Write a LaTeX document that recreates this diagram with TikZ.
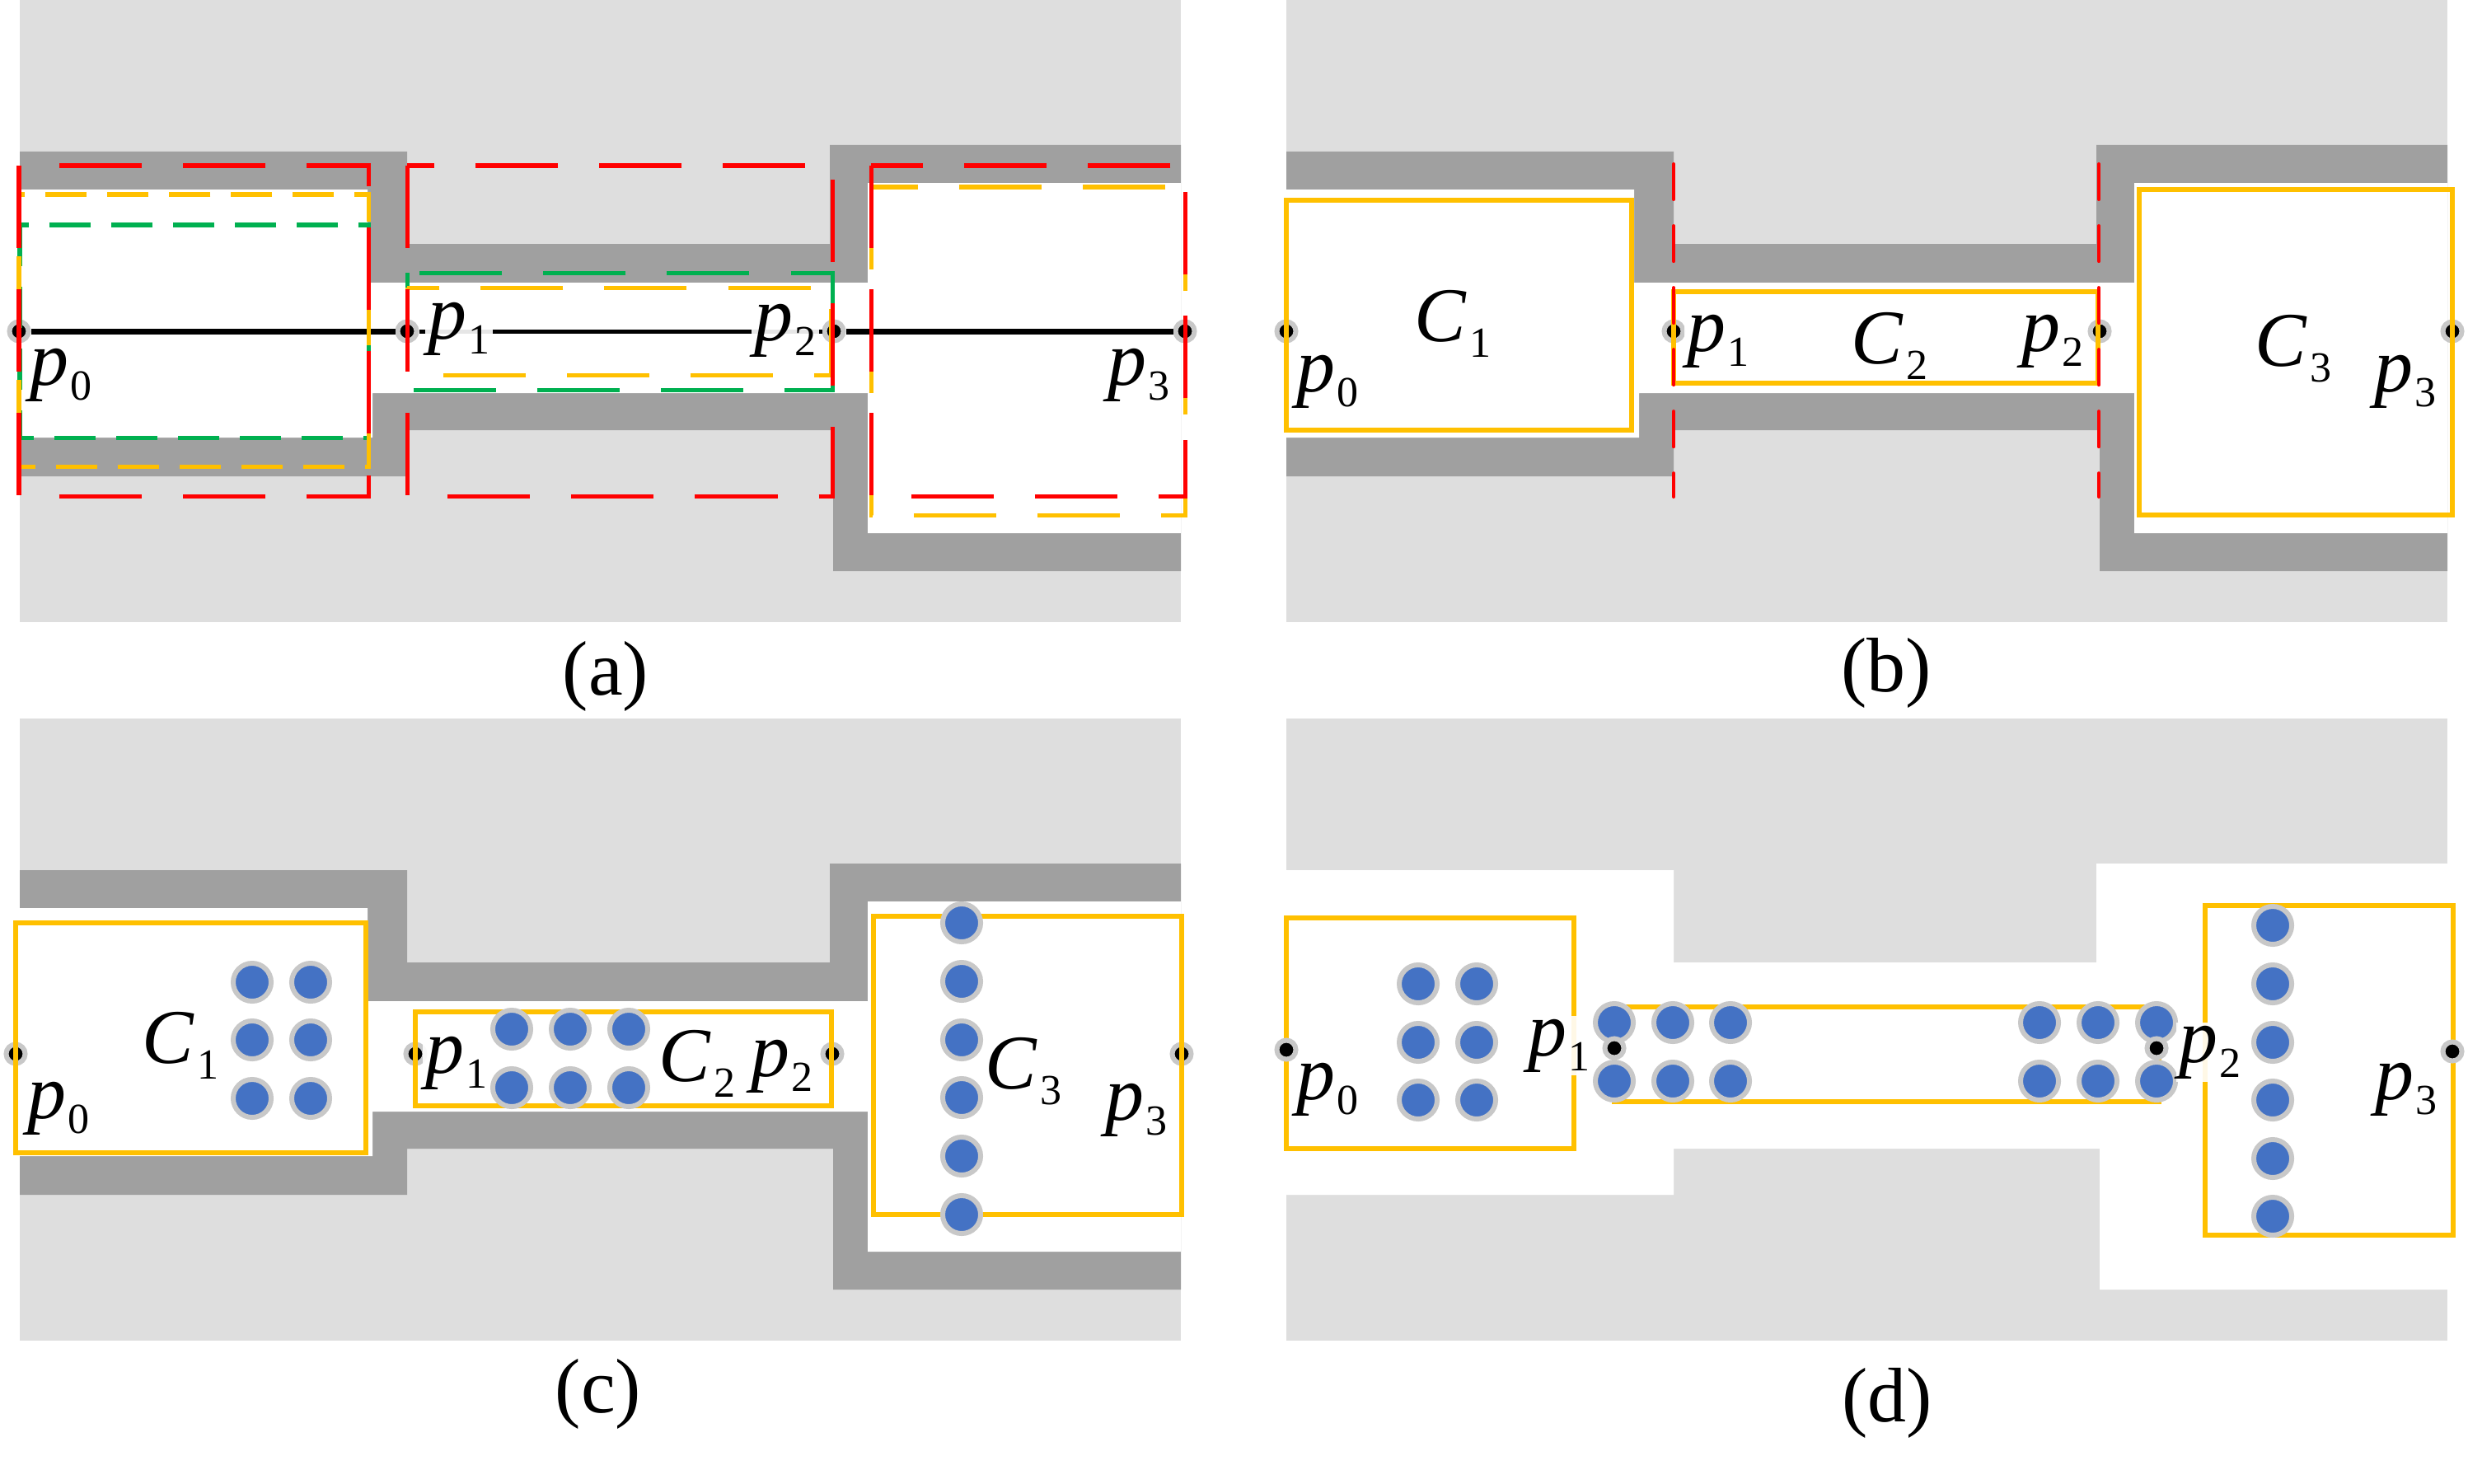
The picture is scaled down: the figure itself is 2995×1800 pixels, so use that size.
\documentclass[tikz,border=0pt]{standalone}
\usepackage{fontspec}
\setmainfont{Liberation Serif}
\usepackage{tikz}

\definecolor{bggray}{HTML}{DEDEDE}
\definecolor{wallgray}{HTML}{A0A0A0}
\definecolor{ringgray}{HTML}{C8C8C8}
\definecolor{cellyellow}{HTML}{FFC000}
\definecolor{boxred}{HTML}{FF0000}
\definecolor{boxgreen}{HTML}{00B050}
\definecolor{beadblue}{HTML}{4472C4}

% channel outline, panel coordinates in px
\newcommand{\outerwall}{(24,184) -- (494,184) -- (494,296) -- (1007,296) -- (1007,176) -- (1433,176) -- (1433,693) -- (1011,693) -- (1011,522) -- (494,522) -- (494,578) -- (24,578) -- cycle}
\newcommand{\innerwall}{(24,230) -- (446,230) -- (446,343) -- (1053,343) -- (1053,222) -- (1433,222) -- (1433,647) -- (1053,647) -- (1053,477) -- (452,477) -- (452,531) -- (24,531) -- cycle}
\newcommand{\psub}[2]{\textit{#1}\kern.03em\raisebox{-.2em}{\fontsize{14.8}{16}\selectfont #2}}

\begin{document}
\begin{tikzpicture}[x=0.01cm,y=-0.01cm]
        \tikzset{pt/.style={circle, fill=black, draw=ringgray, line width=0.06cm, inner sep=0pt, minimum size=0.23cm},
                 bead/.style={circle, fill=beadblue, draw=ringgray, line width=0.06cm, inner sep=0pt, minimum size=0.46cm},
                 cell/.style={draw=cellyellow, line width=0.055cm},
                 axisline/.style={draw=black, line width=0.07cm},
                 lbl/.style={font=\fontsize{26.7}{30}\selectfont, inner sep=1pt, fill=white, fill opacity=0.9, text opacity=1},
                 clbl/.style={font=\fontsize{26.7}{30}\selectfont, inner sep=1pt},
                 subcap/.style={font=\fontsize{26.7}{30}\selectfont},
                 redbox/.style={draw=boxred, line width=0.05cm, dash pattern=on 1cm off 0.5cm},
                 yelbox/.style={draw=cellyellow, line width=0.05cm, dash pattern=on 1cm off 0.5cm},
                 grnbox/.style={draw=boxgreen, line width=0.05cm, dash pattern=on 1cm off 0.5cm},
                 shortdash/.style={dash pattern=on 0.5cm off 0.25cm},
                 cutline/.style={draw=boxred, line width=0.04cm, line cap=round, dash pattern=on 0.43cm off 0.32cm}}
        \useasboundingbox (0,0) rectangle (2995,1800);
        
        %(a) dashed cells
        \begin{scope}
        \fill[bggray] (24,0) rectangle (1433,755);
        \fill[wallgray] \outerwall;
        \fill[white] \innerwall;
        \node[pt] (pa0) at (23,402) {};
        \node[pt] (pa1) at (494,402) {};
        \node[pt] (pa2) at (1012,402) {};
        \node[pt] (pa3) at (1438,402) {};
        \draw[axisline] (pa0) -- (pa1);
        \draw[axisline, line width=0.05cm] (pa1) -- (pa2);
        \draw[axisline] (pa2) -- (pa3);
        \node[lbl] (la0) at (74,455) {\psub{p}{0}};
        \node[lbl] (la1) at (557,399) {\psub{p}{1}};
        \node[lbl] (la2) at (953,401) {\psub{p}{2}};
        \node[lbl] (la3) at (1382,455) {\psub{p}{3}};
        \draw[grnbox, shortdash] (24,273) rectangle (447,531);
        \draw[grnbox] (494,331) rectangle (1010,473);
        \draw[yelbox, shortdash] (23,236) rectangle (447,566);
        \draw[yelbox] (494,349) rectangle (1008,455);
        \draw[yelbox] (1057,227) rectangle (1438,625);
        \draw[redbox] (23,201) rectangle (447,602);
        \draw[redbox] (494,201) rectangle (1010,602);
        \draw[redbox] (1057,201) rectangle (1438,602);
        \node[subcap] (capa) at (735,821) {(a)};
        \end{scope}
        
        %(b) cells
        \begin{scope}[shift={(1537,0)}]
        \fill[bggray] (24,0) rectangle (1433,755);
        \fill[wallgray] \outerwall;
        \fill[white] \innerwall;
        \node[pt] (pb0) at (24,402) {};
        \node[pt] (pb1) at (494,402) {};
        \node[pt] (pb2) at (1011,402) {};
        \node[pt] (pb3) at (1439,402) {};
        \draw[cell] (24,243) rectangle (443,522);
        \draw[cell] (494,354) rectangle (1009,465);
        \draw[cell] (1059,230) rectangle (1439,625);
        \draw[cutline] (494,199) -- (494,603);
        \draw[cutline] (1010,199) -- (1010,603);
        \node[clbl] (cb1) at (226,393) {\psub{C}{1}};
        \node[clbl] (cb2) at (756,420) {\psub{C}{2}};
        \node[clbl] (cb3) at (1246,423) {\psub{C}{3}};
        \node[lbl] (lb0) at (74,463) {\psub{p}{0}};
        \node[lbl] (lb1) at (548,414) {\psub{p}{1}};
        \node[lbl] (lb2) at (954,414) {\psub{p}{2}};
        \node[lbl] (lb3) at (1382,463) {\psub{p}{3}};
        \node[subcap] (capb) at (752,817) {(b)};
        \end{scope}
        
        %(c) cells with beads
        \begin{scope}[shift={(0,872)}]
        \fill[bggray] (24,0) rectangle (1433,755);
        \fill[wallgray] \outerwall;
        \fill[white] \innerwall;
        \node[pt] (pc0) at (19,407) {};
        \node[pt] (pc1) at (504,407) {};
        \node[pt] (pc2) at (1010,407) {};
        \node[pt] (pc3) at (1434,407) {};
        \draw[cell] (19,248) rectangle (444,527);
        \draw[cell] (504,356) rectangle (1009,470);
        \draw[cell] (1060,240) rectangle (1434,602);
        \foreach \x in {306,377}
            \foreach \y in {320,390,461}
                \node[bead] (bc1-\x-\y) at (\x,\y) {};
        \foreach \x in {621,692,763}
            \foreach \y in {377,448}
                \node[bead] (bc2-\x-\y) at (\x,\y) {};
        \foreach \y in {248,319,390,460,531,602}
            \node[bead] (bc3-\y) at (1167,\y) {};
        \node[clbl] (cc1) at (219,397) {\psub{C}{1}};
        \node[clbl] (cc2) at (846,419) {\psub{C}{2}};
        \node[clbl] (cc3) at (1242,428) {\psub{C}{3}};
        \node[lbl] (lc0) at (71,473) {\psub{p}{0}};
        \node[lbl] (lc1) at (554,418) {\psub{p}{1}};
        \node[lbl] (lc2) at (949,422) {\psub{p}{2}};
        \node[lbl] (lc3) at (1379,475) {\psub{p}{3}};
        \node[subcap] (capc) at (726,820) {(c)};
        \end{scope}
        
        %(d) beads without walls
        \begin{scope}[shift={(1537,872)}]
        \fill[bggray] (24,0) rectangle (1433,755);
        \fill[white] \outerwall;
        \draw[cell] (24,242) rectangle (373,522);
        \draw[cell] (422,350) rectangle (1083,465);
        \draw[cell] (1139,227) rectangle (1440,627);
        \foreach \x in {184,255}
            \foreach \y in {322,393,463}
                \node[bead] (bd1-\x-\y) at (\x,\y) {};
        \foreach \x in {422,493,563,938,1009,1080}
            \foreach \y in {369,440}
                \node[bead] (bd2-\x-\y) at (\x,\y) {};
        \foreach \y in {251,322,393,463,534,604}
            \node[bead] (bd3-\y) at (1221,\y) {};
        \node[pt] (pd0) at (24,402) {};
        \node[pt] (pd1) at (422,400) {};
        \node[pt] (pd2) at (1080,400) {};
        \node[pt] (pd3) at (1439,404) {};
        \node[lbl] (ld0) at (74,450) {\psub{p}{0}};
        \node[lbl] (ld1) at (355,397) {\psub{p}{1}};
        \node[lbl] (ld2) at (1145,405) {\psub{p}{2}};
        \node[lbl] (ld3) at (1383,450) {\psub{p}{3}};
        \node[subcap] (capd) at (753,831) {(d)};
        \end{scope}
\end{tikzpicture}
\end{document}
